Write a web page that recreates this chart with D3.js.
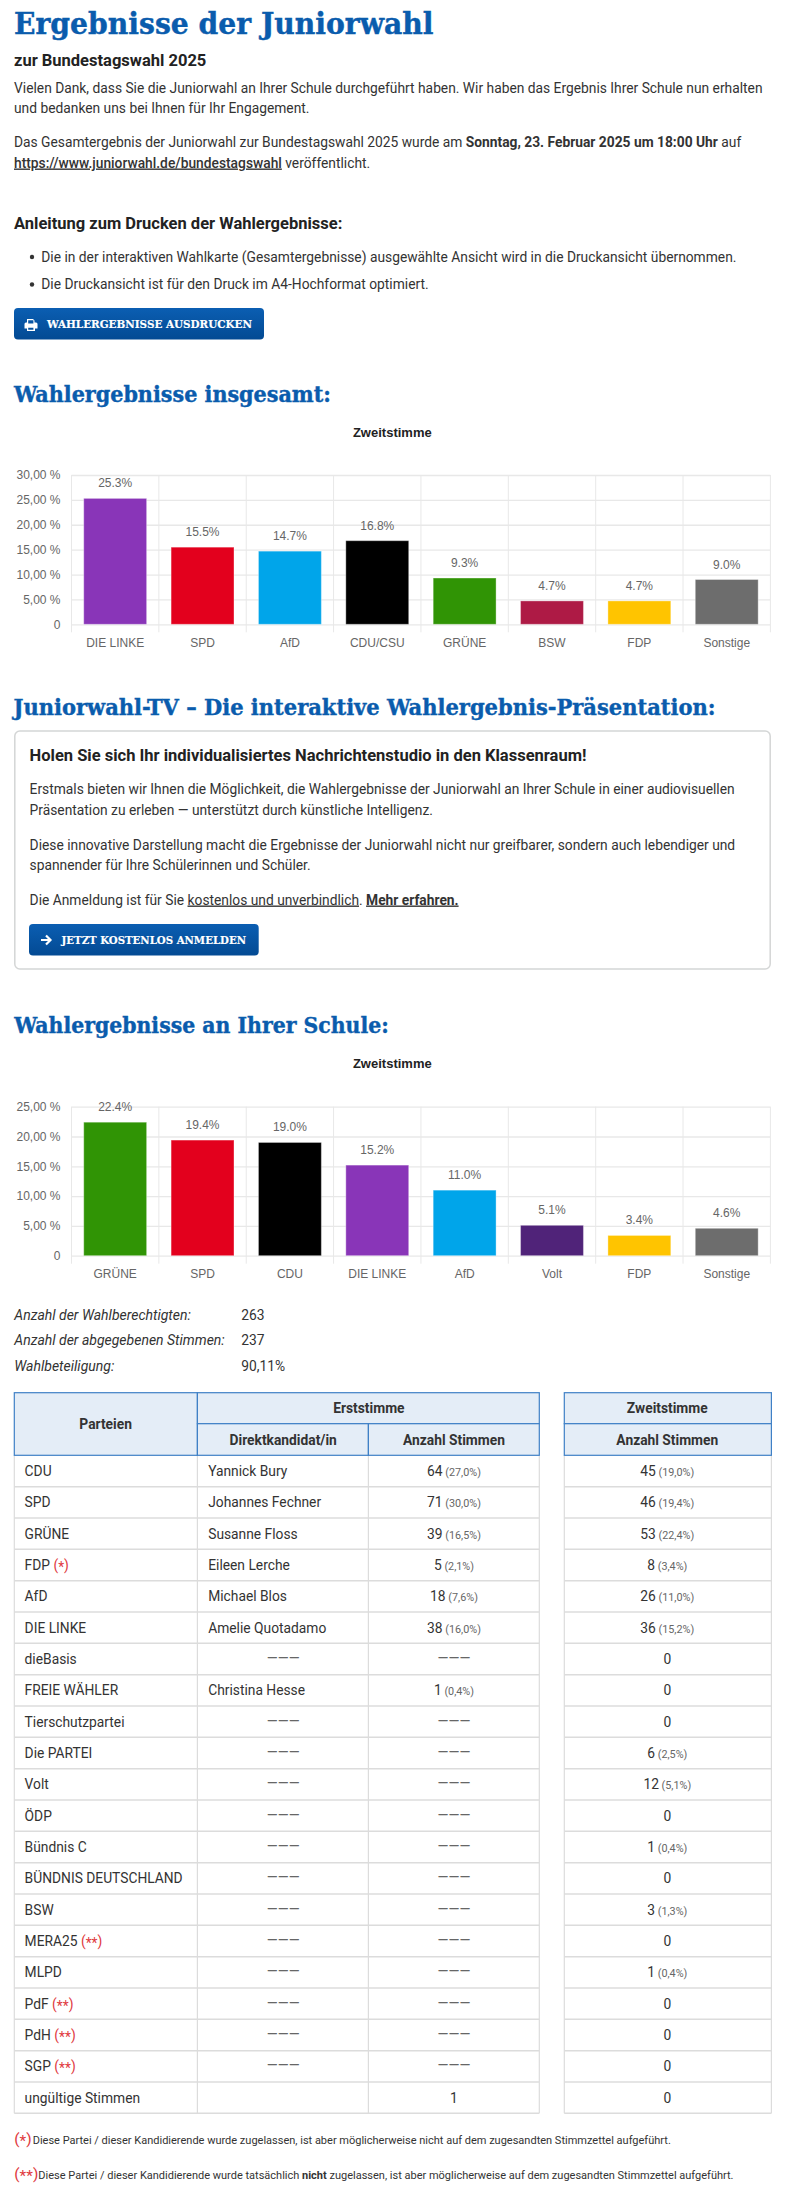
<!DOCTYPE html>
<html>
<head>
<meta charset="utf-8">
<script src="https://cdn.jsdelivr.net/npm/d3@7"></script>
<style>
  html, body { margin: 0; padding: 0; background: #fff; }
  svg { display: block; }
  text { font-family: Roboto, sans-serif; fill: #333; }
  .slab { font-family: "DejaVu Serif Condensed", "DejaVu Serif", serif; font-weight: bold; }
  .chart text { font-family: "Liberation Sans", Arial, sans-serif; fill: #666; }
  .chart .axis path { display: none; }
  .chart .grid line { stroke: #e8e8e8; }
</style>
</head>
<body>
<div id="page"></div>
<script>
// chart data
const totalCats = ["DIE LINKE", "SPD", "AfD", "CDU/CSU", "GRÜNE", "BSW", "FDP", "Sonstige"];
const totalVals = [25.3, 15.5, 14.7, 16.8, 9.3, 4.7, 4.7, 9.0];
const totalCols = ["#8935b8", "#e3001d", "#00a5ea", "#000000", "#309405", "#ae1a45", "#ffc400", "#6d6d6d"];
const totalTicks = [0, 5, 10, 15, 20, 25, 30];

const schoolCats = ["GRÜNE", "SPD", "CDU", "DIE LINKE", "AfD", "Volt", "FDP", "Sonstige"];
const schoolVals = [22.4, 19.4, 19.0, 15.2, 11.0, 5.1, 3.4, 4.6];
const schoolCols = ["#309405", "#e3001d", "#000000", "#8935b8", "#00a5ea", "#502379", "#ffc400", "#6d6d6d"];
const schoolTicks = [0, 5, 10, 15, 20, 25];

// table data
const parties = ["CDU", "SPD", "GRÜNE", "FDP", "AfD", "DIE LINKE", "dieBasis", "FREIE WÄHLER", "Tierschutzpartei", "Die PARTEI", "Volt", "ÖDP", "Bündnis C", "BÜNDNIS DEUTSCHLAND", "BSW", "MERA25", "MLPD", "PdF", "PdH", "SGP", "ungültige Stimmen"];
const partyMarks = ["", "", "", "*", "", "", "", "", "", "", "", "", "", "", "", "**", "", "**", "**", "**", ""];
const candidates = ["Yannick Bury", "Johannes Fechner", "Susanne Floss", "Eileen Lerche", "Michael Blos", "Amelie Quotadamo", "———", "Christina Hesse", "———", "———", "———", "———", "———", "———", "———", "———", "———", "———", "———", "———", ""];
const firstVotes = ["64", "71", "39", "5", "18", "38", "———", "1", "———", "———", "———", "———", "———", "———", "———", "———", "———", "———", "———", "———", "1"];
const firstPct = ["(27,0%)", "(30,0%)", "(16,5%)", "(2,1%)", "(7,6%)", "(16,0%)", "", "(0,4%)", "", "", "", "", "", "", "", "", "", "", "", "", ""];
const secondVotes = ["45", "46", "53", "8", "26", "36", "0", "0", "0", "6", "12", "0", "1", "0", "3", "0", "1", "0", "0", "0", "0"];
const secondPct = ["(19,0%)", "(19,4%)", "(22,4%)", "(3,4%)", "(11,0%)", "(15,2%)", "", "", "", "(2,5%)", "(5,1%)", "", "(0,4%)", "", "(1,3%)", "", "(0,4%)", "", "", "", ""];

const svg = d3.select("#page").append("svg").attr("width", 800).attr("height", 2200);

const blue = "#0a5cad";
const dark = "#333";
const bodySize = 13.8;

// gradient for the two buttons
const grad = svg.append("defs").append("linearGradient").attr("id", "btn").attr("x2", 0).attr("y2", 1);
grad.append("stop").attr("offset", 0).attr("stop-color", "#0b5eb2");
grad.append("stop").attr("offset", 1).attr("stop-color", "#034a93");

// one line of text, parts can be a string or a list of [text, style] pairs
function line(x, y, parts, size, opts = {}) {
  const t = svg.append("text").attr("x", x).attr("y", y)
    .attr("font-size", size)
    .attr("text-anchor", opts.anchor || "start")
    .attr("font-weight", opts.weight || null)
    .attr("font-style", opts.italic ? "italic" : null);
  if (opts.color) t.style("fill", opts.color);
  if (typeof parts === "string") parts = [[parts, {}]];
  parts.forEach(([s, st]) => {
    const span = t.append("tspan").text(s);
    if (st.weight) span.attr("font-weight", st.weight);
    if (st.underline) span.style("text-decoration", "underline");
    if (st.size) span.attr("font-size", st.size);
    if (st.color) span.style("fill", st.color);
    if (st.dy) span.attr("dy", st.dy);
  });
  return t;
}

// red star marks, the stars sit a little lower than a normal asterisk
const red = "#e0393e";
function markParts(stars, size) {
  return [["(", { color: red }],
    [stars, { color: red, dy: size * 0.15 }],
    [")", { color: red, dy: -size * 0.15 }]];
}

// slab headings are squeezed to the measured width
function heading(x, y, str, size, width, color, weight) {
  return svg.append("text").attr("class", "slab").attr("x", x).attr("y", y)
    .attr("font-size", size)
    .attr("textLength", width).attr("lengthAdjust", "spacingAndGlyphs")
    .style("fill", color || blue)
    .style("stroke", color || blue)
    .style("stroke-width", weight === undefined ? 0.4 : weight)
    .text(str);
}

function button(x0, x1, y0, y1, label, tx, tw) {
  svg.append("rect").attr("x", x0).attr("y", y0).attr("width", x1 - x0).attr("height", y1 - y0)
    .attr("rx", 4).attr("fill", "url(#btn)");
  heading(tx, (y0 + y1) / 2 + 4, label, 11, tw, "#fff", 0.15);
}

function barChart(cats, vals, cols, ticks, top, bottom, titleY) {
  const left = 71.5, right = 770.4;
  const g = svg.append("g").attr("class", "chart");

  const x = d3.scaleBand().domain(cats).range([left, right]).paddingInner(0.28).paddingOuter(0.14);
  const y = d3.scaleLinear().domain([0, d3.max(ticks)]).range([bottom, top]);

  g.append("text").attr("x", 392.3).attr("y", titleY).attr("text-anchor", "middle")
    .attr("font-size", 13).attr("font-weight", "bold").style("fill", "#222").text("Zweitstimme");

  // horizontal grid + labels
  g.append("g").attr("class", "axis grid").attr("transform", `translate(${left},0)`)
    .call(d3.axisLeft(y).tickValues(ticks).tickSize(-(right - left)).tickPadding(11)
      .tickFormat(d => d === 0 ? "0" : d3.format(".2f")(d).replace(".", ",") + " %"))
    .call(a => a.selectAll("line").attr("stroke-width", 1.3))
    .call(a => a.selectAll("text").attr("font-size", 12));

  // vertical grid runs past the base line
  const edges = cats.map(c => x(c) - x.step() * 0.14).concat(right);
  g.selectAll(".vgrid").data(edges).join("line").attr("class", "vgrid")
    .attr("x1", d => d).attr("x2", d => d)
    .attr("y1", top).attr("y2", bottom + 8)
    .attr("stroke", "#e8e8e8");

  g.append("g").attr("class", "axis").attr("transform", `translate(0,${bottom})`)
    .call(d3.axisBottom(x).tickSize(0).tickPadding(14))
    .call(a => a.selectAll("text").attr("font-size", 12));

  g.selectAll(".bar").data(cats).join("rect").attr("class", "bar")
    .attr("x", d => x(d))
    .attr("y", (d, i) => y(vals[i]))
    .attr("width", x.bandwidth())
    .attr("height", (d, i) => bottom - y(vals[i]))
    .attr("fill", (d, i) => cols[i])
    .attr("stroke", "rgba(255,255,255,0.35)");

  g.selectAll(".val").data(cats).join("text").attr("class", "val")
    .attr("x", d => x(d) + x.bandwidth() / 2)
    .attr("y", (d, i) => y(vals[i]) - 11)
    .attr("text-anchor", "middle")
    .attr("font-size", 12)
    .text((d, i) => d3.format(".1f")(vals[i]) + "%");
}

// intro block
heading(14, 34, "Ergebnisse der Juniorwahl", 30, 419.5);
line(14, 65.5, "zur Bundestagswahl 2025", 16.5, { weight: "bold", color: "#222" });
line(14, 92.5, "Vielen Dank, dass Sie die Juniorwahl an Ihrer Schule durchgeführt haben. Wir haben das Ergebnis Ihrer Schule nun erhalten", bodySize);
line(14, 113, "und bedanken uns bei Ihnen für Ihr Engagement.", bodySize);
line(14, 147, [["Das Gesamtergebnis der Juniorwahl zur Bundestagswahl 2025 wurde am ", {}], ["Sonntag, 23. Februar 2025 um 18:00 Uhr", { weight: "bold" }], [" auf", {}]], bodySize);
line(14, 167.5, [["https://www.juniorwahl.de/bundestagswahl", { weight: 500, underline: true }], [" veröffentlicht.", {}]], bodySize);

line(14, 228.5, "Anleitung zum Drucken der Wahlergebnisse:", 16.5, { weight: "bold", color: "#222" });
[["Die in der interaktiven Wahlkarte (Gesamtergebnisse) ausgewählte Ansicht wird in die Druckansicht übernommen.", 261.5],
 ["Die Druckansicht ist für den Druck im A4-Hochformat optimiert.", 289]].forEach(([s, yy]) => {
  svg.append("circle").attr("cx", 32).attr("cy", yy - 4.5).attr("r", 2.2).attr("fill", dark);
  line(41.3, yy, s, bodySize);
});
button(14, 264, 308, 339.5, "WAHLERGEBNISSE AUSDRUCKEN", 47, 205);
// printer icon
svg.append("path").attr("fill", "#fff").attr("fill-rule", "evenodd")
  .attr("d", "M27 319h6l1.5 1.5v2h1.5a1.5 1.5 0 0 1 1.5 1.5v4.5h-2.5v2.5h-8v-2.5h-2.5v-4.5a1.5 1.5 0 0 1 1.5-1.5h1zm1.2 1.2v3.3h5.2v-3.3zm0 7.6v2h5.2v-2z");

// overall results
heading(14, 401.5, "Wahlergebnisse insgesamt:", 23, 317);
barChart(totalCats, totalVals, totalCols, totalTicks, 475, 624.3, 437);

// TV teaser card
heading(13.5, 715, "Juniorwahl-TV – Die interaktive Wahlergebnis-Präsentation:", 23, 702);
svg.append("rect").attr("x", 14.8).attr("y", 731).attr("width", 755.4).attr("height", 238)
  .attr("rx", 5).attr("fill", "#fff").attr("stroke", "#d4d6d6").attr("stroke-width", 1.5);
line(29.6, 761, "Holen Sie sich Ihr individualisiertes Nachrichtenstudio in den Klassenraum!", 16.5, { weight: "bold", color: "#222" });
line(29.6, 794, "Erstmals bieten wir Ihnen die Möglichkeit, die Wahlergebnisse der Juniorwahl an Ihrer Schule in einer audiovisuellen", bodySize);
line(29.6, 814.5, "Präsentation zu erleben — unterstützt durch künstliche Intelligenz.", bodySize);
line(29.6, 849.5, "Diese innovative Darstellung macht die Ergebnisse der Juniorwahl nicht nur greifbarer, sondern auch lebendiger und", bodySize);
line(29.6, 870, "spannender für Ihre Schülerinnen und Schüler.", bodySize);
line(29.6, 904.5, [["Die Anmeldung ist für Sie ", {}], ["kostenlos und unverbindlich", { underline: true }], [". ", {}], ["Mehr erfahren.", { weight: "bold", underline: true }]], bodySize);
button(29, 258.7, 924, 955.5, "JETZT KOSTENLOS ANMELDEN", 61.5, 184.5);
// arrow icon
svg.append("path").attr("fill", "none").attr("stroke", "#fff").attr("stroke-width", 2.2)
  .attr("d", "M41 940h9M46 935.5l4.5 4.5-4.5 4.5");

// school results
heading(14.3, 1032.5, "Wahlergebnisse an Ihrer Schule:", 23, 374.5);
barChart(schoolCats, schoolVals, schoolCols, schoolTicks, 1106.7, 1255.7, 1068);

[["Anzahl der Wahlberechtigten:", "263", 1320], ["Anzahl der abgegebenen Stimmen:", "237", 1345], ["Wahlbeteiligung:", "90,11%", 1371]].forEach(([a, b, yy]) => {
  line(14.3, yy, a, 14, { italic: true });
  line(241.3, yy, b, bodySize);
});

// results tables
const headBlue = "#3f80c6", headFill = "#e4edf7", rowLine = "#dcdcdc";
const col0 = 14.3, col1 = 197.4, col2 = 368.4, col3 = 539.3, col4 = 564.3, col5 = 771.4;
const headTop = 1392.7, headMid = 1423.7, headBot = 1455.3;
const rowY = d3.scaleBand().domain(d3.range(parties.length)).range([headBot, 2113.3]);

function box(x0, x1, y0, y1, fill, stroke, w) {
  svg.append("rect").attr("x", x0).attr("y", y0).attr("width", x1 - x0).attr("height", y1 - y0)
    .attr("fill", fill).attr("stroke", stroke).attr("stroke-width", w);
}
function rows(x0, x1, dividers) {
  svg.append("g").selectAll("line").data(d3.range(parties.length)).join("line")
    .attr("x1", x0).attr("x2", x1)
    .attr("y1", i => rowY(i) + rowY.step()).attr("y2", i => rowY(i) + rowY.step())
    .attr("stroke", rowLine).attr("stroke-width", 1.5);
  dividers.forEach(dx => {
    svg.append("line").attr("x1", dx).attr("x2", dx).attr("y1", headBot).attr("y2", 2113.3)
      .attr("stroke", rowLine).attr("stroke-width", 1.2);
  });
}
rows(col0, col3, [col0, col1, col2, col3]);
rows(col4, col5, [col4, col5]);

box(col0, col1, headTop, headBot, headFill, headBlue, 1.2);
box(col1, col3, headTop, headMid, headFill, headBlue, 1.2);
box(col1, col2, headMid, headBot, headFill, headBlue, 1.2);
box(col2, col3, headMid, headBot, headFill, headBlue, 1.2);
box(col4, col5, headTop, headMid, headFill, headBlue, 1.2);
box(col4, col5, headMid, headBot, headFill, headBlue, 1.2);

const headOpts = { weight: "bold", anchor: "middle" };
line(105.6, 1429, "Parteien", bodySize, headOpts);
line(368.9, 1413, "Erststimme", bodySize, headOpts);
line(283.2, 1445, "Direktkandidat/in", bodySize, headOpts);
line(454, 1445, "Anzahl Stimmen", bodySize, headOpts);
line(667.3, 1413, "Zweitstimme", bodySize, headOpts);
line(667.3, 1445, "Anzahl Stimmen", bodySize, headOpts);

const pctStyle = { size: 10.8, color: "#666" };
const cell = i => rowY(i) + rowY.step() / 2 + 5;
parties.forEach((p, i) => {
  const yy = cell(i);
  const name = partyMarks[i] ? [[p + " ", {}]].concat(markParts(partyMarks[i], bodySize)) : p;
  line(24.6, yy, name, bodySize);
  const c = candidates[i];
  if (c === "———") line(283.2, yy - 1, c, 14, { anchor: "middle", color: "#666" });
  else line(208.2, yy, c, bodySize);
  if (firstVotes[i] === "———") line(454, yy - 1, firstVotes[i], 14, { anchor: "middle", color: "#666" });
  else line(454, yy, [[firstVotes[i], {}], [firstPct[i] ? " " + firstPct[i] : "", pctStyle]], bodySize, { anchor: "middle" });
  line(667.3, yy, [[secondVotes[i], {}], [secondPct[i] ? " " + secondPct[i] : "", pctStyle]], bodySize, { anchor: "middle" });
});

// footnotes
line(14.3, 2144, markParts("*", 15.5), 15.5);
line(32.7, 2143.5, "Diese Partei / dieser Kandidierende wurde zugelassen, ist aber möglicherweise nicht auf dem zugesandten Stimmzettel aufgeführt.", 11);
line(14.3, 2179, markParts("**", 15.5), 15.5);
line(38.3, 2178.5, [["Diese Partei / dieser Kandidierende wurde tatsächlich ", {}], ["nicht", { weight: "bold" }], [" zugelassen, ist aber möglicherweise auf dem zugesandten Stimmzettel aufgeführt.", {}]], 11);
</script>
</body>
</html>
